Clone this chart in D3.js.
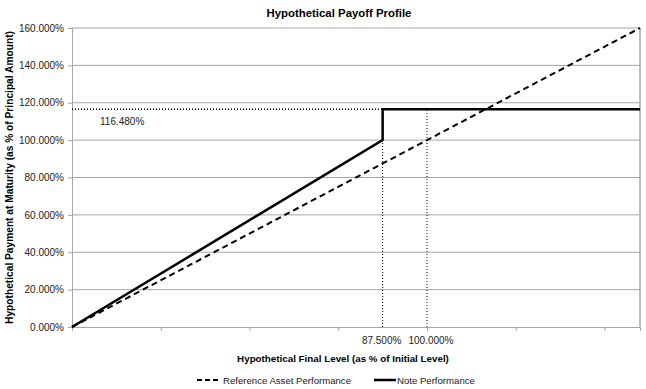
<!DOCTYPE html>
<html>
<head>
<meta charset="utf-8">
<script src="https://cdn.jsdelivr.net/npm/d3@7"></script>
<style>
  body { margin: 0; background: #fff; }
  text { font-family: "Liberation Sans", Arial, sans-serif; }
</style>
</head>
<body>
<div class="chart"></div>
<script>
// data
const refLevels = [0, 160];
const refPayment = [0, 160];
const noteLevels = [0, 87.5, 87.5, 160];
const notePayment = [0, 100, 116.48, 116.48];
const yTicks = [0, 20, 40, 60, 80, 100, 120, 140, 160];
const xTickMarks = [25, 50, 75, 100, 125, 150];
const xLabels = [87.5, 100];
const capLevel = 116.48;

const width = 646, height = 389;
const margin = {top: 28, right: 6, bottom: 62, left: 72};

const svg = d3.select('.chart').append('svg')
    .attr('width', width)
    .attr('height', height);

const x = d3.scaleLinear().domain([0, 160]).range([margin.left, width - margin.right]);
const y = d3.scaleLinear().domain([0, 160]).range([height - margin.bottom, margin.top]);

const fmt = d => d3.format('.3f')(d) + '%';

// gridlines
svg.append('g')
    .selectAll('line')
    .data(yTicks.slice(1))
    .enter().append('line')
    .attr('x1', x(0)).attr('x2', x(160))
    .attr('y1', d => y(d)).attr('y2', d => y(d))
    .attr('stroke', '#a6a6a6').attr('stroke-width', 1);

// right border + left axis
svg.append('line')
    .attr('x1', x(160)).attr('x2', x(160))
    .attr('y1', y(0)).attr('y2', y(160))
    .attr('stroke', '#a6a6a6').attr('stroke-width', 1.5);

const yAxis = svg.append('g')
    .attr('transform', `translate(${x(0)},0)`)
    .call(d3.axisLeft(y).tickValues(yTicks).tickFormat(fmt).tickSize(4).tickPadding(4));
yAxis.select('.domain').attr('stroke', '#a6a6a6');
yAxis.selectAll('.tick line').attr('stroke', '#a6a6a6');
yAxis.selectAll('text').attr('font-size', 10).attr('fill', '#222')
    .style('font-family', '"Liberation Sans", Arial, sans-serif');

const xAxis = svg.append('g')
    .attr('transform', `translate(0,${y(0)})`)
    .call(d3.axisBottom(x).tickValues(xTickMarks).tickFormat('').tickSize(4));
xAxis.select('.domain').attr('stroke', '#a6a6a6');
xAxis.selectAll('.tick line').attr('stroke', '#a6a6a6');

svg.append('g')
    .selectAll('text')
    .data(xLabels)
    .enter().append('text')
    .attr('x', d => x(d))
    .attr('dx', (d, i) => i === 0 ? -1 : 4)
    .attr('y', y(0) + 17)
    .attr('text-anchor', 'middle')
    .attr('font-size', 10)
    .attr('fill', '#222')
    .text(fmt);

// dotted guide lines
const dots = svg.append('g')
    .attr('stroke', '#000')
    .attr('stroke-width', 1)
    .attr('stroke-dasharray', '1,2')
    .attr('fill', 'none');
dots.append('line')
    .attr('x1', x(0)).attr('x2', x(87.5))
    .attr('y1', y(capLevel)).attr('y2', y(capLevel))
    .attr('stroke-width', 1.5);
dots.selectAll('.vline')
    .data(xLabels)
    .enter().append('line')
    .attr('class', 'vline')
    .attr('x1', d => x(d)).attr('x2', d => x(d))
    .attr('y1', y(0)).attr('y2', y(capLevel));

svg.append('text')
    .attr('x', 100)
    .attr('y', y(capLevel) + 16)
    .attr('font-size', 10)
    .attr('fill', '#222')
    .text(fmt(capLevel));

const line = d3.line().x(d => x(d[0])).y(d => y(d[1]));

svg.append('path')
    .datum(d3.zip(refLevels, refPayment))
    .attr('d', line)
    .attr('fill', 'none')
    .attr('stroke', '#000')
    .attr('stroke-width', 2)
    .attr('stroke-dasharray', '6,4');

svg.append('path')
    .datum(d3.zip(noteLevels, notePayment))
    .attr('d', line)
    .attr('fill', 'none')
    .attr('stroke', '#000')
    .attr('stroke-width', 2.5);

// titles
svg.append('text')
    .attr('x', 339).attr('y', 17)
    .attr('text-anchor', 'middle')
    .attr('font-size', 11.4).attr('font-weight', 'bold')
    .text('Hypothetical Payoff Profile');

svg.append('text')
    .attr('x', 343).attr('y', 362)
    .attr('text-anchor', 'middle')
    .attr('font-size', 9.8).attr('font-weight', 'bold')
    .text('Hypothetical Final Level (as % of Initial Level)');

svg.append('text')
    .attr('transform', `translate(13,${(y(0) + y(160)) / 2}) rotate(-90)`)
    .attr('text-anchor', 'middle')
    .attr('font-size', 10.2).attr('font-weight', 'bold')
    .text('Hypothetical Payment at Maturity  (as % of Principal Amount)');

// legend
const legend = [
  {label: 'Reference Asset Performance', dash: '5,3', w: 2, x: 197},
  {label: 'Note Performance', dash: null, w: 2.5, x: 374}
];
const lg = svg.append('g').selectAll('g')
    .data(legend)
    .enter().append('g')
    .attr('transform', d => `translate(${d.x},380)`);
lg.append('line')
    .attr('x1', 0).attr('x2', 22)
    .attr('y1', 0).attr('y2', 0)
    .attr('stroke', '#000')
    .attr('stroke-width', d => d.w)
    .attr('stroke-dasharray', d => d.dash);
lg.append('text')
    .attr('x', d => d.dash ? 26 : 23)
    .attr('y', 4)
    .attr('font-size', 9.6)
    .attr('fill', '#222')
    .text(d => d.label);
</script>
</body>
</html>
